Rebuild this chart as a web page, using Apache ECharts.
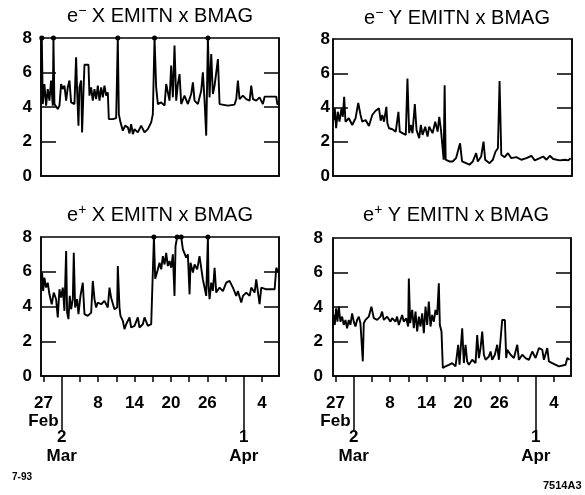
<!DOCTYPE html>
<html>
<head>
<meta charset="utf-8">
<script src="https://cdn.jsdelivr.net/npm/echarts@6/dist/echarts.min.js"></script>
<style>
  html, body { margin: 0; padding: 0; background: #fff; }
  #main { width: 585px; height: 495px; }
</style>
</head>
<body>
<div id="main"></div>
<script>
// x = days after 27 Feb 1993, y = emittance x BMAG
var elecX = [[-0.4,5.14],[-0.27,8],[-0.11,4.17],[0.16,5.33],[0.44,4.08],[0.71,5.04],[0.99,4.37],[1.26,5.53],[1.54,4.08],[1.65,8],[1.81,4.17],[2.36,3.88],[2.64,4.08],[2.91,5.33],[3.19,5.04],[3.46,5.24],[3.74,4.37],[4.01,5.14],[4.29,5.53],[4.56,4.27],[5.11,4.17],[5.38,6.88],[5.55,4.95],[5.77,2.92],[5.93,5.14],[6.21,5.53],[6.37,2.53],[6.59,4.85],[6.76,6.45],[7.42,6.45],[7.58,4.66],[7.86,5.14],[8.13,4.37],[8.41,5.04],[8.68,4.46],[8.96,5.24],[9.23,4.37],[9.51,5.14],[9.78,4.56],[10.05,5.24],[10.33,4.66],[10.6,4.85],[10.77,3.3],[11.43,3.3],[11.98,3.36],[12.25,8],[12.42,3.59],[12.69,3.11],[13.08,2.63],[13.46,2.92],[13.9,2.82],[14.18,2.47],[14.45,3.01],[14.73,2.43],[15.0,2.72],[15.55,2.53],[16.1,2.92],[16.65,2.53],[17.2,2.72],[17.75,3.11],[18.02,3.59],[18.3,8],[18.57,5.14],[18.85,4.17],[19.4,4.27],[19.95,4.08],[20.22,5.33],[20.77,4.37],[21.04,6.4],[21.32,4.56],[21.59,7.56],[21.87,4.37],[22.14,5.33],[22.42,5.91],[22.69,4.17],[23.24,4.66],[23.79,4.17],[24.34,4.75],[24.62,5.43],[24.89,4.37],[25.44,4.17],[25.99,4.95],[26.26,6.01],[26.54,4.37],[26.81,2.34],[27.09,8],[27.36,4.56],[27.64,7.07],[27.91,4.75],[28.19,5.24],[28.74,6.78],[29.01,4.17],[30.38,4.08],[31.48,4.14],[31.76,4.46],[32.03,5.53],[32.31,4.46],[32.86,4.66],[33.41,4.46],[33.96,4.37],[34.23,5.24],[34.51,4.46],[35.05,4.37],[35.6,4.56],[36.15,4.17],[36.43,4.6],[38.35,4.6],[38.52,4.17],[38.8,4.14]];

var elecY = [[-0.44,3.66],[-0.27,3.27],[-0.11,3.95],[0.11,2.79],[0.38,3.75],[0.66,3.17],[0.99,3.95],[1.21,3.46],[1.43,4.62],[1.65,3.17],[2.2,3.37],[2.75,2.98],[3.3,3.37],[3.74,4.27],[4.12,3.56],[4.4,3.17],[4.95,3.27],[5.49,2.92],[6.04,3.56],[6.59,3.81],[7.14,3.95],[7.42,3.23],[7.69,3.56],[7.97,3.17],[8.35,4.04],[8.52,3.08],[8.79,2.79],[9.34,2.73],[9.89,2.59],[10.16,2.69],[10.33,3.75],[10.55,2.59],[10.99,2.5],[11.54,2.4],[11.81,5.69],[12.09,2.5],[12.36,2.98],[12.64,2.5],[13.02,4.2],[13.3,2.69],[13.74,2.21],[14.01,2.98],[14.29,2.4],[14.73,2.88],[15.11,2.3],[15.38,2.88],[15.93,2.5],[16.37,3.17],[16.76,2.59],[17.03,3.46],[17.31,2.69],[17.58,2.59],[17.75,0.95],[17.91,5.3],[18.08,0.95],[18.68,0.85],[19.23,0.85],[19.78,1.04],[20.44,1.91],[20.77,0.85],[21.43,0.75],[21.98,0.66],[22.53,0.85],[23.08,1.33],[23.35,0.85],[23.9,1.14],[24.29,2.01],[24.56,0.95],[25.27,0.75],[25.82,0.95],[26.26,1.43],[26.65,1.62],[26.92,5.55],[27.2,1.24],[27.75,1.1],[28.3,1.33],[28.85,1.04],[29.67,1.1],[30.49,0.95],[31.32,1.04],[32.14,1.18],[32.69,0.91],[33.52,1.04],[34.07,1.14],[34.62,0.95],[35.16,1.18],[35.71,0.99],[36.81,0.91],[37.64,0.95],[38.19,0.91],[38.57,1.04]];

var posX = [[-0.38,5.56],[-0.22,5.95],[-0.05,4.89],[0.16,5.66],[0.44,5.09],[0.71,5.37],[0.99,4.7],[1.37,4.13],[1.7,4.8],[2.09,4.42],[2.36,3.37],[2.64,4.99],[2.91,4.51],[3.19,5.09],[3.46,3.75],[3.74,7.19],[3.9,3.65],[4.12,3.27],[4.34,4.61],[4.56,3.84],[4.84,4.42],[5.0,7.09],[5.22,3.94],[5.55,4.42],[5.77,3.56],[6.1,4.61],[6.48,5.37],[6.76,3.56],[7.31,3.46],[7.86,3.65],[8.13,5.47],[8.41,4.42],[8.68,3.94],[8.96,4.23],[9.51,4.13],[10.05,4.32],[10.6,3.94],[10.88,5.09],[11.15,4.51],[11.7,3.84],[12.14,3.94],[12.25,6.33],[12.53,3.94],[12.69,3.46],[13.08,3.17],[13.35,2.7],[13.63,2.98],[13.9,2.89],[14.18,3.37],[14.45,2.79],[15.0,2.89],[15.55,3.37],[15.82,2.79],[16.37,2.98],[16.65,3.37],[17.2,2.89],[17.75,2.98],[18.02,2.95],[18.2,8],[18.41,5.6],[18.85,6.14],[19.12,6.52],[19.4,6.14],[19.67,6.9],[19.95,6.42],[20.22,7.09],[20.49,6.33],[20.77,6.62],[21.04,6.23],[21.32,7.0],[21.59,4.61],[21.76,7.48],[22.03,8],[22.69,8],[22.97,7.29],[23.24,7.38],[23.52,6.81],[23.79,7.0],[24.07,4.7],[24.23,6.52],[24.62,5.95],[24.89,6.42],[25.33,6.14],[25.71,6.9],[25.99,6.81],[26.26,5.56],[26.54,5.09],[26.81,4.61],[27.09,8],[27.2,5.18],[27.36,4.42],[27.64,5.37],[27.91,4.89],[28.19,6.23],[28.46,4.8],[29.01,5.09],[29.56,4.89],[30.11,5.37],[30.66,5.47],[31.21,5.09],[31.76,4.61],[32.03,4.89],[32.58,4.23],[32.86,4.61],[33.41,4.8],[33.96,4.61],[34.23,5.09],[34.78,4.8],[35.05,5.56],[35.6,4.13],[35.88,5.09],[36.7,4.99],[38.08,4.99],[38.35,6.23],[38.74,5.95]];

var posY = [[-0.44,2.77],[-0.27,3.54],[-0.11,2.96],[0.11,3.92],[0.33,3.15],[0.55,4.02],[0.82,3.15],[1.1,3.44],[1.37,2.96],[1.65,3.25],[1.92,2.77],[2.2,3.25],[2.47,2.96],[2.75,3.63],[3.02,3.15],[3.3,2.87],[3.57,3.25],[3.85,3.44],[4.12,3.06],[4.4,3.15],[4.51,0.85],[4.67,3.06],[4.95,3.25],[5.49,3.44],[5.93,4.02],[6.32,3.35],[6.87,3.25],[7.42,3.44],[7.69,3.73],[7.97,3.25],[8.52,3.44],[9.07,3.15],[9.34,3.35],[9.89,3.15],[10.16,3.44],[10.44,2.96],[10.71,3.25],[10.99,3.54],[11.26,3.15],[11.65,3.35],[11.98,2.87],[12.09,5.65],[12.31,3.06],[12.64,3.83],[12.91,2.77],[13.19,3.73],[13.46,2.58],[13.74,3.44],[14.01,2.87],[14.29,3.63],[14.56,2.48],[14.84,4.02],[15.11,2.96],[15.38,4.31],[15.66,2.87],[15.93,3.54],[16.21,3.15],[16.48,3.83],[16.76,3.54],[17.03,5.37],[17.2,2.96],[17.47,2.58],[17.69,0.46],[18.13,0.56],[18.68,0.65],[19.23,0.75],[19.78,0.56],[20.22,1.81],[20.44,0.65],[20.88,2.77],[21.15,0.75],[21.43,1.81],[21.7,0.85],[21.98,0.65],[22.53,0.94],[23.08,0.75],[23.35,2.38],[23.63,1.04],[23.9,1.62],[24.18,2.58],[24.45,1.23],[24.73,0.94],[25.27,1.13],[25.55,1.42],[25.82,0.94],[26.26,1.23],[26.65,1.81],[26.92,0.94],[27.47,3.25],[27.91,3.25],[28.13,1.04],[28.3,1.52],[28.85,1.23],[29.4,1.04],[29.95,1.81],[30.22,0.94],[30.77,1.23],[31.32,1.04],[31.87,0.94],[32.42,1.42],[32.97,1.04],[33.52,1.62],[34.07,1.52],[34.34,0.94],[34.89,1.62],[35.16,0.85],[35.71,0.75],[36.81,0.56],[37.91,0.65],[38.19,1.04],[38.57,0.94]];

// axis ticks / labels (days after 27 Feb)
var tickDays = [0, 3, 6, 9, 12, 15, 18, 21, 24, 27, 30, 33, 36];
var labelDays = [0, 9, 15, 21, 27, 36];
var dayLabels = ['27\nFeb', '8', '14', '20', '26', '4'];
var monthDays = [3, 33];
var monthLabels = ['2\nMar', '1\nApr'];
var yTicks = [2, 4, 6];

var titles = ['X', 'Y', 'X', 'Y'];
var signs = ['\u2212', '\u2212', '+', '+'];
var seriesData = [elecX, elecY, posX, posY];

var FONT = '"Liberation Sans", Arial, Helvetica, sans-serif';
var X_MIN = -0.4, X_MAX = 38.8;
var black = { color: '#000', width: 1.5 };

var panels = [
    { left: 41, top: 38, width: 238, height: 138, ym: 9, bottom: false, tx: 160, ty: 16 },
    { left: 333, top: 39, width: 239, height: 137, ym: 3, bottom: false, tx: 457, ty: 18 },
    { left: 41, top: 237, width: 238, height: 139, ym: 9, bottom: true, tx: 160, ty: 215 },
    { left: 333, top: 238, width: 238, height: 138, ym: 10, bottom: true, tx: 456, ty: 215 }
];

var chart = echarts.init(document.getElementById('main'));

var grid = [], xAxis = [], yAxis = [], series = [], graphic = [];

panels.forEach(function (p, i) {
    grid.push({
        left: p.left, top: p.top, width: p.width, height: p.height,
        show: true, borderColor: '#000', borderWidth: 1.5
    });
    xAxis.push({
        gridIndex: i, type: 'value', min: X_MIN, max: X_MAX, position: 'bottom',
        axisLine: { show: true, onZero: false, lineStyle: black },
        axisTick: { show: p.bottom, customValues: tickDays, length: 6, lineStyle: black },
        axisLabel: {
            show: p.bottom, customValues: labelDays, margin: 18,
            color: '#000', fontSize: 17, fontWeight: 'bold', fontFamily: FONT, lineHeight: 18,
            formatter: function (v) { return dayLabels[labelDays.indexOf(Math.round(v))]; }
        },
        splitLine: { show: false }
    });
    yAxis.push({
        gridIndex: i, type: 'value', min: 0, max: 8, interval: 2, position: 'left',
        axisLine: { show: true, onZero: false, lineStyle: black },
        axisTick: { show: true, inside: true, length: 15, customValues: yTicks, lineStyle: black },
        axisLabel: { margin: p.ym, color: '#000', fontSize: 17, fontWeight: 'bold', fontFamily: FONT },
        splitLine: { show: false }
    });
    series.push({
        type: 'line', xAxisIndex: i, yAxisIndex: i,
        data: seriesData[i],
        lineStyle: { color: '#000', width: 1.9 },
        itemStyle: { color: '#000' },
        symbol: 'circle', showAllSymbol: true,
        symbolSize: function (v) { return v[1] >= 8 ? 5 : 0; },
        clip: true, silent: true
    });
    graphic.push({
        type: 'text', x: p.tx, y: p.ty,
        style: {
            text: '{e|e}{s|' + signs[i] + '}{t| ' + titles[i] + ' EMITN x BMAG}',
            align: 'center', verticalAlign: 'middle',
            rich: {
                e: { fontSize: 20, fontFamily: FONT, fill: '#000', lineHeight: 24, verticalAlign: 'middle' },
                s: { fontSize: 14, fontFamily: FONT, fill: '#000', lineHeight: 14, verticalAlign: 'top' },
                t: { fontSize: 20, fontFamily: FONT, fill: '#000', lineHeight: 24, verticalAlign: 'middle' }
            }
        }
    });
});

// right-side inner ticks
panels.forEach(function (p, i) {
    yAxis.push({
        gridIndex: i, type: 'value', min: 0, max: 8, interval: 2, position: 'right',
        axisLine: { show: true, onZero: false, lineStyle: black },
        axisTick: { show: true, inside: true, length: 15, customValues: yTicks, lineStyle: black },
        axisLabel: { show: false },
        splitLine: { show: false }
    });
});

// long month ticks under the bottom panels
[2, 3].forEach(function (i) {
    xAxis.push({
        gridIndex: i, type: 'value', min: X_MIN, max: X_MAX, position: 'bottom',
        axisLine: { show: false, onZero: false },
        axisTick: { show: true, customValues: monthDays, length: 54, lineStyle: black },
        axisLabel: {
            customValues: monthDays, margin: 52,
            color: '#000', fontSize: 17, fontWeight: 'bold', fontFamily: FONT, lineHeight: 19,
            formatter: function (v) { return monthLabels[monthDays.indexOf(Math.round(v))]; }
        },
        splitLine: { show: false }
    });
});

graphic.push({
    type: 'text', x: 12, y: 477,
    style: { text: '7-93', font: 'bold 10px ' + FONT, fill: '#000', verticalAlign: 'middle' }
});
graphic.push({
    type: 'text', x: 543, y: 486,
    style: { text: '7514A3', font: 'bold 11px ' + FONT, fill: '#000', verticalAlign: 'middle' }
});

chart.setOption({
    animation: false,
    backgroundColor: '#fff',
    grid: grid,
    xAxis: xAxis,
    yAxis: yAxis,
    series: series,
    graphic: graphic
});
</script>
</body>
</html>
